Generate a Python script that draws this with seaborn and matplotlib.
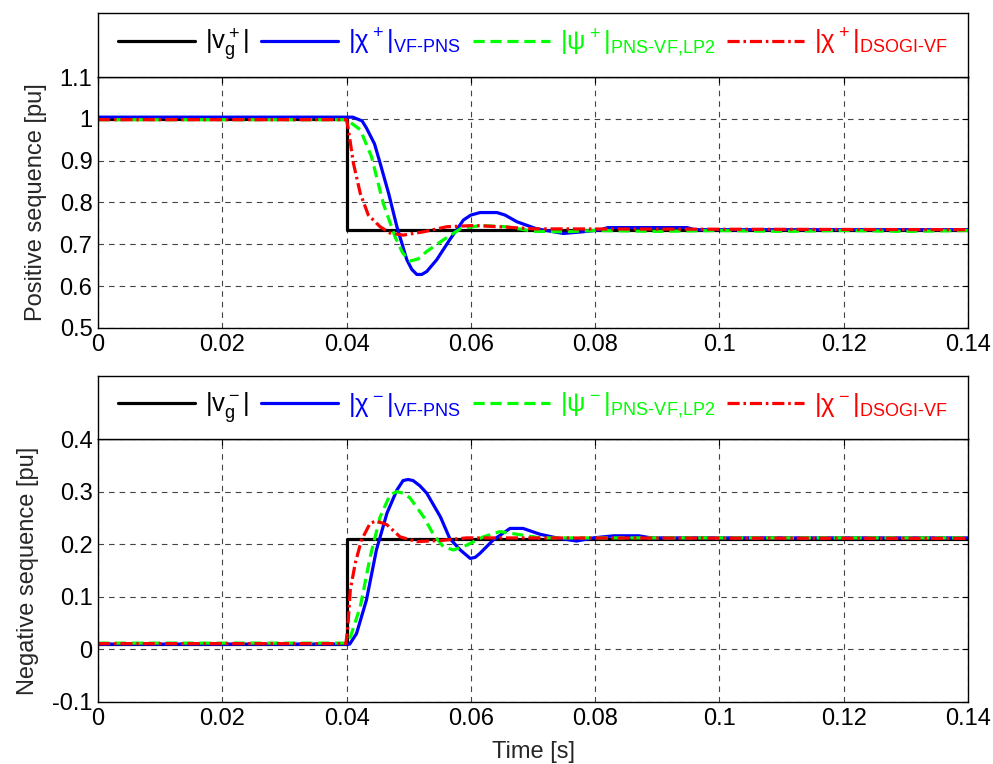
import matplotlib
matplotlib.use("Agg")
import matplotlib.pyplot as plt
import numpy as np
import pandas as pd
import seaborn as sns

# ---- data (time in s, magnitude in pu) ----
# positive sequence
t_vg_pos = [0.0, 0.04, 0.04, 0.14]
vg_pos = [1.0, 1.0, 0.735, 0.735]

t_vfpns_pos = [0.0, 0.041, 0.0425, 0.0432, 0.0445, 0.0454, 0.0468, 0.0481, 0.0497, 0.0505,
               0.0513, 0.0521, 0.0529, 0.0545, 0.0566, 0.0588, 0.0600, 0.0615, 0.0642, 0.0655,
               0.0674, 0.0706, 0.0749, 0.0780, 0.0810, 0.0820, 0.0948, 0.0960, 0.14]
vfpns_pos = [1.004, 1.004, 0.995, 0.978, 0.940, 0.894, 0.820, 0.742, 0.663, 0.640,
             0.628, 0.628, 0.635, 0.663, 0.711, 0.758, 0.770, 0.776, 0.776, 0.770,
             0.754, 0.737, 0.726, 0.730, 0.735, 0.740, 0.740, 0.735, 0.735]

t_pnsvf_pos = [0.0, 0.040, 0.0422, 0.0440, 0.0459, 0.0478, 0.0490, 0.0502, 0.0515, 0.0529,
               0.0556, 0.0583, 0.0615, 0.0658, 0.0701, 0.075, 0.080, 0.090, 0.100, 0.110,
               0.120, 0.130, 0.14]
pnsvf_pos = [0.998, 0.998, 0.974, 0.910, 0.798, 0.718, 0.680, 0.660, 0.665, 0.683,
             0.711, 0.737, 0.745, 0.742, 0.731, 0.730, 0.733, 0.731, 0.733, 0.731,
             0.733, 0.731, 0.733]

t_dsogi_pos = [0.0, 0.040, 0.0403, 0.0411, 0.0422, 0.0435, 0.0454, 0.0470, 0.0491, 0.0524,
               0.0561, 0.0604, 0.0647, 0.0701, 0.14]
dsogi_pos = [0.998, 0.998, 0.974, 0.894, 0.822, 0.770, 0.742, 0.727, 0.722, 0.730,
             0.742, 0.745, 0.742, 0.737, 0.735]

# negative sequence
t_vg_neg = [0.0, 0.04, 0.04, 0.14]
vg_neg = [0.011, 0.011, 0.21, 0.21]

t_vfpns_neg = [0.0, 0.0405, 0.0416, 0.0432, 0.0448, 0.0465, 0.0481, 0.0491, 0.0499, 0.0507,
               0.0518, 0.0529, 0.0551, 0.0566, 0.0583, 0.0599, 0.0607, 0.0615, 0.0636, 0.0663,
               0.0684, 0.0711, 0.0738, 0.0770, 0.0797, 0.0830, 0.0870, 0.0890, 0.14]
vfpns_neg = [0.010, 0.010, 0.030, 0.094, 0.189, 0.259, 0.303, 0.321, 0.323, 0.321,
             0.311, 0.297, 0.252, 0.211, 0.189, 0.173, 0.175, 0.183, 0.208, 0.230,
             0.230, 0.219, 0.212, 0.206, 0.212, 0.216, 0.216, 0.212, 0.212]

t_pnsvf_neg = [0.0, 0.040, 0.0406, 0.0422, 0.0438, 0.0454, 0.0470, 0.0481, 0.0491, 0.0502,
               0.0524, 0.0540, 0.0556, 0.0572, 0.0593, 0.0620, 0.0647, 0.0679, 0.0711, 0.14]
pnsvf_neg = [0.012, 0.012, 0.023, 0.081, 0.176, 0.252, 0.294, 0.300, 0.297, 0.288,
             0.252, 0.218, 0.195, 0.189, 0.198, 0.214, 0.224, 0.218, 0.212, 0.212]

t_dsogi_neg = [0.0, 0.0399, 0.0402, 0.0406, 0.0414, 0.0424, 0.0438, 0.0448, 0.0465, 0.0486,
               0.0513, 0.0551, 0.0593, 0.14]
dsogi_neg = [0.011, 0.011, 0.043, 0.113, 0.164, 0.208, 0.240, 0.244, 0.237, 0.214,
             0.205, 0.207, 0.212, 0.211]

x_ticks = [0, 0.02, 0.04, 0.06, 0.08, 0.1, 0.12, 0.14]
x_ticklabels = ["0", "0.02", "0.04", "0.06", "0.08", "0.1", "0.12", "0.14"]
pos_yticks = [0.5, 0.6, 0.7, 0.8, 0.9, 1.0, 1.1]
pos_yticklabels = ["0.5", "0.6", "0.7", "0.8", "0.9", "1", "1.1"]
neg_yticks = [-0.1, 0, 0.1, 0.2, 0.3, 0.4]
neg_yticklabels = ["-0.1", "0", "0.1", "0.2", "0.3", "0.4"]

pos_labels = [r"$|v_g^+|$", r"$|\chi^+|_{\text{VF-PNS}}$",
              r"$|\psi^+|_{\text{PNS-VF,LP2}}$", r"$|\chi^+|_{\text{DSOGI-VF}}$"]
neg_labels = [r"$|v_g^-|$", r"$|\chi^-|_{\text{VF-PNS}}$",
              r"$|\psi^-|_{\text{PNS-VF,LP2}}$", r"$|\chi^-|_{\text{DSOGI-VF}}$"]

colors = ["black", "#0000ff", "#00ff00", "#ff0000"]
dashes = [None, None, (3.5, 1.8), (3.8, 1.2, 0.8, 1.2)]

sns.set_theme(style="white")
plt.rcParams["font.family"] = ["Liberation Sans", "DejaVu Sans"]
plt.rcParams["mathtext.fontset"] = "custom"
plt.rcParams["mathtext.rm"] = "Liberation Sans"
plt.rcParams["mathtext.it"] = "Liberation Sans"
plt.rcParams["mathtext.bf"] = "Liberation Sans:bold"
plt.rcParams["axes.unicode_minus"] = False

FS = 17
LEG_FS = 18.5

fig = plt.figure(figsize=(9.93, 7.64), dpi=100)


def draw_panel(main_rect, leg_rect, series, labels, ylim, yticks, yticklabels, ylabel, xlabel=None):
    ax = fig.add_axes(main_rect)
    for (t, v), c, d, lab in zip(series, colors, dashes, labels):
        df = pd.DataFrame({"t": t, "v": v})
        sns.lineplot(data=df, x="t", y="v", ax=ax, color=c, lw=2.3, sort=False,
                     estimator=None, label=lab, legend=False)
        if d is not None:
            ax.lines[-1].set_dashes(d)
    ax.set_xlim(0, 0.14)
    ax.set_ylim(*ylim)
    ax.set_xticks(x_ticks)
    ax.set_xticklabels(x_ticklabels)
    ax.set_yticks(yticks)
    ax.set_yticklabels(yticklabels)
    ax.grid(True, color="#444444", linestyle=(0, (5, 4.5)), linewidth=0.8)
    ax.tick_params(direction="in", length=4, width=0.8, labelsize=FS, pad=4,
                   top=True, right=True, colors="black")
    for s in ax.spines.values():
        s.set_color("black")
        s.set_linewidth(1.0)
    ax.set_ylabel(ylabel, fontsize=FS, labelpad=9)
    ax.set_xlabel(xlabel if xlabel else "", fontsize=FS, labelpad=8)

    lax = fig.add_axes(leg_rect)
    lax.set_xticks([])
    lax.set_yticks([])
    for s in lax.spines.values():
        s.set_color("black")
        s.set_linewidth(1.0)
    handles = ax.lines[:4]
    lax.legend(handles, labels, loc="center", ncol=4, frameon=False, fontsize=LEG_FS,
               handlelength=3.0, handletextpad=0.4, columnspacing=0.45,
               labelcolor="linecolor", borderaxespad=0)
    return ax


L, W = 98 / 993, 870 / 993
draw_panel([L, 1 - 328 / 764, W, 251 / 764], [L, 1 - 77 / 764, W, 64 / 764],
           [(t_vg_pos, vg_pos), (t_vfpns_pos, vfpns_pos), (t_pnsvf_pos, pnsvf_pos),
            (t_dsogi_pos, dsogi_pos)],
           pos_labels, (0.5, 1.1), pos_yticks, pos_yticklabels, "Positive sequence [pu]")
draw_panel([L, 1 - 702 / 764, W, 263 / 764], [L, 1 - 439 / 764, W, 63 / 764],
           [(t_vg_neg, vg_neg), (t_vfpns_neg, vfpns_neg), (t_pnsvf_neg, pnsvf_neg),
            (t_dsogi_neg, dsogi_neg)],
           neg_labels, (-0.1, 0.4), neg_yticks, neg_yticklabels, "Negative sequence [pu]",
           xlabel="Time [s]")

fig.savefig("out.png", dpi=100, facecolor="white")
